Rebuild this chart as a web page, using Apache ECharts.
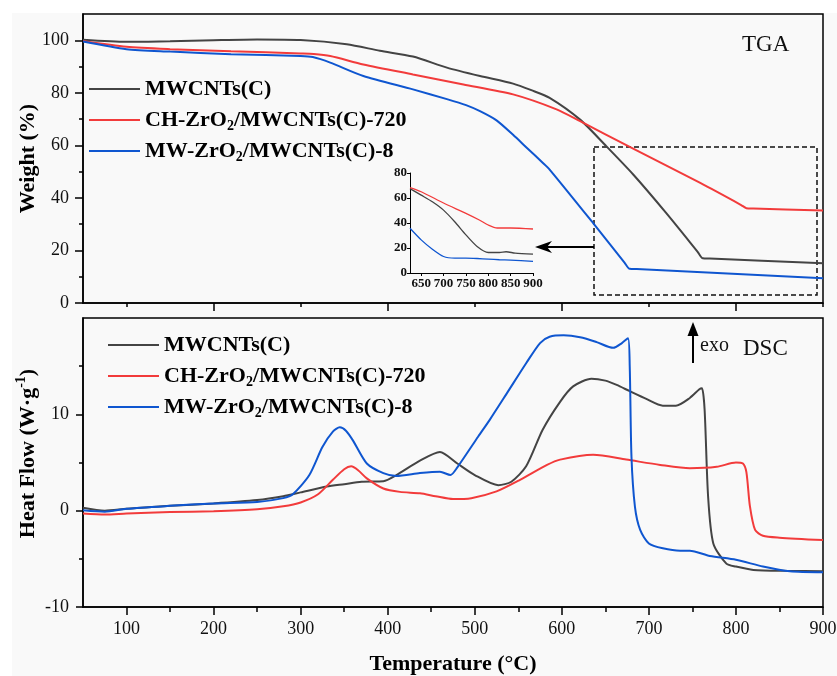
<!DOCTYPE html>
<html>
<head>
<meta charset="utf-8">
<script src="https://cdn.jsdelivr.net/npm/echarts@6/dist/echarts.min.js"></script>
<style>
  html, body { margin: 0; padding: 0; background: #fff; }
  #main { width: 837px; height: 676px; }
</style>
</head>
<body>
<div id="main"></div>
<script>
var FONT = 'Liberation Serif, Times New Roman, serif';

var names = ['MWCNTs(C)', 'CH-ZrO2/MWCNTs(C)-720', 'MW-ZrO2/MWCNTs(C)-8'];
var colors = ['#444444', '#f23b3b', '#0f56d0'];

// TGA, weight (%) vs temperature
var tgaBlack = [[50,100.2],[100,99.4],[150,99.6],[200,100.0],[250,100.3],[300,100.1],[353,98.5],[391,96],[429,93.8],[468,89.6],[506,86.4],[544,83.5],[565,81],[586,78.1],[621,69.8],[651,59.7],[682,48.9],[720,34.2],[756,19.5],[762,17.0],[770,16.9],[900,15.1]];
var tgaRed = [[50,99.7],[100,97.5],[150,96.6],[220,95.8],[300,95.0],[315,94.8],[334,94],[372,90.8],[429,87],[487,83.2],[544,79.4],[594,73.7],[621,69.2],[678,59.4],[759,45.7],[806,37.3],[812,36.1],[820,36.0],[900,35.2]];
var tgaBlue = [[50,99.5],[100,96.6],[150,95.7],[220,94.7],[300,94.0],[314,93.6],[334,91.5],[372,86.4],[429,81.3],[468,77.6],[490,75.3],[506,73],[525,69.5],[544,64],[560,59],[578,53.4],[586,50.8],[636,30.4],[672,15.4],[678,13.0],[686,12.9],[900,9.4]];

// inset (zoom of the TGA tail)
var insetBlack = [[625,67.5],[650,62.3],[675,57],[700,50.3],[725,41],[750,30.5],[775,21.2],[800,16.4],[825,16.4],[840,17],[860,15.9],[900,15.1]];
var insetRed = [[625,68.3],[650,65],[700,56],[750,47.7],[780,42.4],[800,38.4],[820,36],[850,36],[870,35.8],[900,35.2]];
var insetBlue = [[625,35.8],[650,26.5],[675,19],[700,13.2],[725,11.9],[750,11.9],[775,11.6],[800,11.1],[825,10.6],[850,10.3],[900,9.3]];

// DSC, heat flow (W/g) vs temperature
var dscBlack = [[50,0.3],[75,0.0],[100,0.2],[150,0.5],[200,0.75],[250,1.1],[280,1.5],[300,1.9],[330,2.5],[350,2.75],[370,3.0],[395,3.05],[410,3.7],[437,5.2],[460,6.1],[480,4.9],[500,3.7],[527,2.65],[542,3.0],[559,4.6],[578,8.4],[598,11.3],[613,12.9],[634,13.7],[650,13.5],[663,13.05],[678,12.4],[697,11.6],[716,10.9],[731,10.9],[747,11.7],[758,12.6],[761,12.7],[764,10.5],[768,1.5],[774,-3.4],[789,-5.5],[800,-5.8],[820,-6.15],[860,-6.25],[900,-6.3]];
var dscRed = [[50,-0.3],[75,-0.4],[100,-0.3],[150,-0.15],[200,-0.05],[250,0.15],[280,0.45],[300,0.85],[320,1.7],[337,3.2],[350,4.3],[358,4.6],[366,4.2],[376,3.35],[395,2.3],[414,1.95],[437,1.8],[455,1.5],[475,1.2],[496,1.3],[525,2.0],[552,3.2],[583,4.75],[598,5.3],[636,5.8],[674,5.3],[713,4.75],[747,4.4],[778,4.55],[800,5.0],[808,4.9],[812,4.0],[816,0.5],[822,-2.0],[831,-2.6],[850,-2.8],[900,-3.05]];
var dscBlue = [[50,0.05],[75,-0.1],[100,0.2],[150,0.5],[200,0.75],[250,0.9],[280,1.3],[291,1.7],[310,3.7],[325,6.6],[337,8.2],[345,8.65],[352,8.3],[360,7.3],[376,4.9],[395,3.9],[410,3.6],[437,3.9],[460,4.05],[472,3.7],[480,4.5],[504,7.7],[517,9.4],[537,12.2],[559,15.3],[575,17.4],[586,18.05],[602,18.2],[621,18.0],[640,17.5],[659,16.9],[669,17.4],[676,17.9],[678,15.0],[680,5.6],[684,0.4],[690,-2.0],[700,-3.4],[716,-3.9],[736,-4.15],[747,-4.15],[770,-4.7],[800,-5.1],[831,-5.8],[862,-6.3],[900,-6.4]];

// tick values
var tgaXMajor = [200, 400, 600, 800];
var tgaXMinor = [100, 300, 500, 700, 900];
var dscXMajor = [100, 200, 300, 400, 500, 600, 700, 800, 900];
var dscXMinor = [150, 250, 350, 450, 550, 650, 750, 850];
var tgaYMajor = [0, 20, 40, 60, 80, 100];
var tgaYMinor = [10, 30, 50, 70, 90];
var dscYMajor = [-10, 0, 10];
var dscYMinor = [-5, 5, 15];
var insetX = [650, 700, 750, 800, 850, 900];
var insetY = [0, 20, 40, 60, 80];

var myChart = echarts.init(document.getElementById('main'));

function tickAxis(grid, pos, ticks, len, labels, extra) {
    var ax = {
        type: 'value', gridIndex: grid, min: extra.min, max: extra.max,
        position: pos,
        splitLine: { show: false },
        axisLine: { show: !!extra.line, onZero: false, lineStyle: { color: '#000', width: extra.lw || 1.5 } },
        axisTick: { show: true, inside: false, length: len, customValues: ticks,
            lineStyle: { color: '#000', width: extra.lw || 1.5 } },
        axisLabel: { show: false }
    };
    if (labels) {
        ax.axisLabel = {
            show: true, customValues: labels, margin: extra.margin,
            fontFamily: FONT, fontSize: extra.fs || 18, color: '#111',
            fontWeight: extra.fw || 'normal'
        };
    }
    if (extra.name) {
        ax.name = extra.name;
        ax.nameLocation = 'middle';
        ax.nameGap = extra.nameGap;
        ax.nameMoveOverlap = false;
        ax.nameTextStyle = extra.nameTextStyle;
    }
    return ax;
}

var nameStyle = { fontFamily: FONT, fontSize: 22, fontWeight: 'bold', color: '#000' };

function legendFmt(name) {
    return name.replace('O2', 'O{sub|2}');
}
var legendText = {
    fontFamily: FONT, fontSize: 22, fontWeight: 'bold', color: '#000', lineHeight: 26,
    rich: { sub: { fontFamily: FONT, fontSize: 14, fontWeight: 'bold', color: '#000', lineHeight: 12, verticalAlign: 'bottom' } }
};

function line(name, data, xi, yi, color, w) {
    return {
        name: name, type: 'line', xAxisIndex: xi, yAxisIndex: yi, data: data,
        symbol: 'none', smooth: 0.25, lineStyle: { color: color, width: w },
        itemStyle: { color: color }, silent: true, animation: false
    };
}

option = {
    backgroundColor: '#fff',
    animation: false,
    grid: [
        { left: 83, top: 14, width: 740, height: 289, show: true, borderColor: '#000', borderWidth: 1.5, outerBoundsMode: 'none' },
        { left: 83, top: 318, width: 740, height: 289, show: true, borderColor: '#000', borderWidth: 1.5, outerBoundsMode: 'none' },
        { left: 410, top: 173, width: 123, height: 100, outerBoundsMode: 'none' }
    ],
    xAxis: [
        tickAxis(0, 'bottom', tgaXMajor, 8, null, { min: 50, max: 900, line: true }),
        tickAxis(0, 'bottom', tgaXMinor, 4, null, { min: 50, max: 900 }),
        tickAxis(1, 'bottom', dscXMajor, 8, dscXMajor, { min: 50, max: 900, line: true, margin: 13,
            name: 'Temperature (°C)', nameGap: 46, nameTextStyle: nameStyle }),
        tickAxis(1, 'bottom', dscXMinor, 5, null, { min: 50, max: 900 }),
        tickAxis(2, 'bottom', insetX, 3, insetX, { min: 625, max: 900, line: true, lw: 1, margin: 4, fs: 13, fw: 'bold' })
    ],
    yAxis: [
        tickAxis(0, 'left', tgaYMajor, 8, tgaYMajor, { min: 0, max: 110, line: true, margin: 14,
            name: 'Weight (%)', nameGap: 44, nameTextStyle: nameStyle }),
        tickAxis(0, 'left', tgaYMinor, 4, null, { min: 0, max: 110 }),
        tickAxis(1, 'left', dscYMajor, 7, dscYMajor, { min: -10, max: 20, line: true, margin: 14,
            name: 'Heat Flow (W·g{sup|-1})', nameGap: 41,
            nameTextStyle: {
                fontFamily: FONT, fontSize: 22, fontWeight: 'bold', color: '#000', lineHeight: 28,
                padding: [0, 0, 0, 18],
                rich: { sup: { fontFamily: FONT, fontSize: 14, fontWeight: 'bold', color: '#000', lineHeight: 14, verticalAlign: 'top' } }
            } }),
        tickAxis(1, 'left', dscYMinor, 4, null, { min: -10, max: 20 }),
        tickAxis(2, 'left', insetY, 3, insetY, { min: 0, max: 80, line: true, lw: 1, margin: 3, fs: 13, fw: 'bold' })
    ],
    legend: [
        { data: names, orient: 'vertical', left: 89, top: 76, padding: 0, icon: 'rect', itemWidth: 51, itemHeight: 2,
          itemGap: 5, formatter: legendFmt, textStyle: legendText, selectedMode: false },
        { data: names, orient: 'vertical', left: 108, top: 332, padding: 0, icon: 'rect', itemWidth: 51, itemHeight: 2,
          itemGap: 5, formatter: legendFmt, textStyle: legendText, selectedMode: false }
    ],
    series: [
        line(names[0], tgaBlack, 0, 0, colors[0], 2),
        line(names[1], tgaRed, 0, 0, colors[1], 2),
        line(names[2], tgaBlue, 0, 0, colors[2], 2),
        line(names[0], dscBlack, 2, 2, colors[0], 2),
        line(names[1], dscRed, 2, 2, colors[1], 2),
        line(names[2], dscBlue, 2, 2, colors[2], 2),
        line('inset-a', insetBlack, 4, 4, colors[0], 1.3),
        line('inset-b', insetRed, 4, 4, colors[1], 1.3),
        line('inset-c', insetBlue, 4, 4, colors[2], 1.3)
    ],
    graphic: [
        { type: 'rect', z: -10, shape: { x: 12, y: 13, width: 825, height: 663 }, style: { fill: '#f9f9f9' }, silent: true },
        { type: 'text', x: 742, y: 45, style: { text: 'TGA', fontFamily: FONT, fontSize: 23, fill: '#111', verticalAlign: 'middle' } },
        { type: 'text', x: 743, y: 349, style: { text: 'DSC', fontFamily: FONT, fontSize: 23, fill: '#111', verticalAlign: 'middle' } },
        { type: 'text', x: 700, y: 346, style: { text: 'exo', fontFamily: FONT, fontSize: 20, fill: '#111', verticalAlign: 'middle' } },
        { type: 'line', shape: { x1: 693, y1: 363, x2: 693, y2: 332 }, style: { stroke: '#000', lineWidth: 2 } },
        { type: 'polygon', shape: { points: [[693, 322], [687.5, 336], [698.5, 336]] }, style: { fill: '#000' } },
        { type: 'rect', shape: { x: 594, y: 147, width: 223, height: 148 }, style: { fill: 'none', stroke: '#111', lineWidth: 1.5, lineDash: [5, 3] } },
        { type: 'line', shape: { x1: 594, y1: 247, x2: 540, y2: 247 }, style: { stroke: '#000', lineWidth: 2 } },
        { type: 'polygon', shape: { points: [[535, 247], [552, 241], [547, 247], [552, 253]] }, style: { fill: '#000' } }
    ]
};

myChart.setOption(option);
</script>
</body>
</html>
